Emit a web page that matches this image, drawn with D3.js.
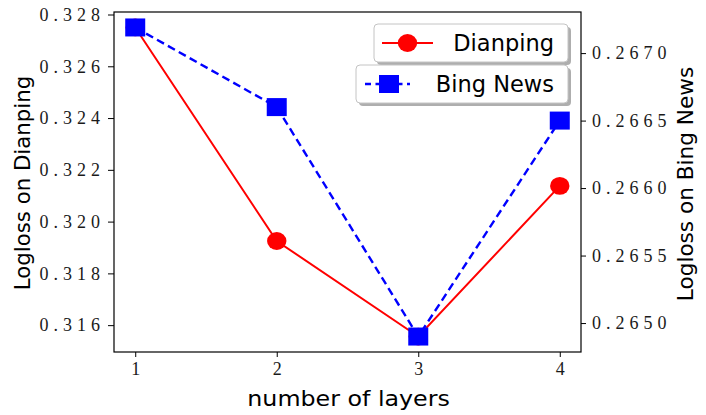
<!DOCTYPE html>
<html><head><meta charset="utf-8">
<script src="https://cdn.jsdelivr.net/npm/d3@7"></script>
<style>
body{margin:0;background:#fff;}
svg{display:block;}
.tick text{font-family:"Liberation Serif",serif;font-size:18px;letter-spacing:5px;fill:#1a1a1a;}
.lab{font-family:"DejaVu Sans",sans-serif;fill:#000;}
</style></head>
<body><svg id="c" width="706" height="415"></svg>
<script>
const layers = [1, 2, 3, 4];
const dianping = [0.32750, 0.31925, 0.31556, 0.32138];
const bingNews = [0.26719, 0.26660, 0.26490, 0.26650];
const xTicks = [1, 2, 3, 4];
const leftTicks = [0.316, 0.318, 0.320, 0.322, 0.324, 0.326, 0.328];
const rightTicks = [0.2650, 0.2655, 0.2660, 0.2665, 0.2670];
const seriesNames = ["Dianping", "Bing News"];

const svg = d3.select("#c");
const L = 114, R = 581, T = 12, B = 352;

function padded(arr){ const [a,b]=d3.extent(arr); const r=b-a; return [a-0.05*r, b+0.05*r]; }
const xd = padded(layers);
const x = d3.scaleLinear().domain(xd).range([L, R]);
const y1 = d3.scaleLinear().domain(padded(dianping)).range([B, T]);
const y2 = d3.scaleLinear().domain(padded(bingNews)).range([B, T]);

// axes
const gx = svg.append("g").attr("transform",`translate(0,${B})`)
  .call(d3.axisBottom(x).tickValues(xTicks).tickFormat(d3.format("d")).tickSize(5).tickPadding(5));
const gl = svg.append("g").attr("transform",`translate(${L},0)`)
  .call(d3.axisLeft(y1).tickValues(leftTicks).tickFormat(d3.format(".3f")).tickSize(6).tickPadding(8));
const gr = svg.append("g").attr("transform",`translate(${R},0)`)
  .call(d3.axisRight(y2).tickValues(rightTicks).tickFormat(d3.format(".4f")).tickSize(5).tickPadding(6));
[gx,gl,gr].forEach(g=>{ g.select(".domain").remove(); g.selectAll(".tick line").attr("stroke","#000").attr("stroke-width",1); });
gl.selectAll(".tick text").attr("dx", 5);
gx.selectAll(".tick text").attr("dx", 2.5);

// frame
svg.append("rect").attr("x",L).attr("y",T).attr("width",R-L).attr("height",B-T)
  .attr("fill","none").attr("stroke","#000").attr("stroke-width",1.2);

// Dianping series
const line1 = d3.line().x((d,i)=>x(layers[i])).y(d=>y1(d));
svg.append("path").datum(dianping).attr("d",line1).attr("fill","none").attr("stroke","#ff0000").attr("stroke-width",2);
svg.selectAll(".dp").data(dianping).enter().append("ellipse")
  .attr("cx",(d,i)=>x(layers[i])).attr("cy",d=>y1(d)).attr("rx",9.7).attr("ry",8.9).attr("fill","#ff0000");

// Bing News series
const line2 = d3.line().x((d,i)=>x(layers[i])).y(d=>y2(d));
svg.append("path").datum(bingNews).attr("d",line2).attr("fill","none").attr("stroke","#0000ff")
  .attr("stroke-width",2.4).attr("stroke-dasharray","8,4.5");
svg.selectAll(".bn").data(bingNews).enter().append("rect")
  .attr("x",(d,i)=>x(layers[i])-10).attr("y",d=>y2(d)-9).attr("width",20).attr("height",18).attr("fill","#0000ff");

// axis labels
svg.append("text").attr("class","lab").attr("x",(L+R)/2+1).attr("y",406).attr("text-anchor","middle")
  .style("font-size","22px").attr("transform",`translate(${(L+R)/2},0) scale(1.08,1) translate(${-(L+R)/2},0)`)
  .text("number of layers");
svg.append("text").attr("class","lab").attr("transform",`translate(30,${(T+B)/2+1}) rotate(-90)`)
  .attr("text-anchor","middle").style("font-size","21.3px").text("Logloss on Dianping");
svg.append("text").attr("class","lab").attr("transform",`translate(693,${(T+B)/2+2}) rotate(-90)`)
  .attr("text-anchor","middle").style("font-size","21.6px").text("Logloss on Bing News");

// legends
function legend(x0, y0, w, h, name, kind){
  const g = svg.append("g");
  g.append("rect").attr("x",x0+3).attr("y",y0+3).attr("width",w).attr("height",h).attr("rx",4)
    .attr("fill","#8c8c8c").attr("opacity",0.7);
  g.append("rect").attr("x",x0).attr("y",y0).attr("width",w).attr("height",h).attr("rx",4)
    .attr("fill","#fff").attr("stroke","#c4c4c4").attr("stroke-width",1);
  const cy = y0 + h/2;
  if(kind==="circle"){
    g.append("line").attr("x1",x0+8).attr("x2",x0+59).attr("y1",cy).attr("y2",cy).attr("stroke","#ff0000").attr("stroke-width",2);
    g.append("ellipse").attr("cx",x0+33.5).attr("cy",cy).attr("rx",9.7).attr("ry",8.9).attr("fill","#ff0000");
  } else {
    g.append("line").attr("x1",x0+9).attr("x2",x0+54).attr("y1",cy).attr("y2",cy).attr("stroke","#0000ff")
      .attr("stroke-width",2.4).attr("stroke-dasharray","6,4.5");
    g.append("rect").attr("x",x0+23).attr("y",cy-9).attr("width",20).attr("height",18).attr("fill","#0000ff");
  }
  g.append("text").attr("class","lab").attr("x",x0+w-14).attr("y",cy+8).attr("text-anchor","end")
    .style("font-size","22.5px").text(name);
}
legend(374, 24, 194, 38, seriesNames[0], "circle");
legend(356, 65, 212, 38, seriesNames[1], "square");
</script></body></html>
